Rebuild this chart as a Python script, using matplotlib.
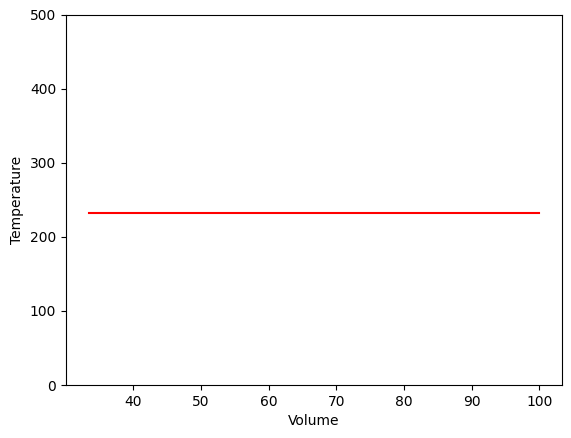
import matplotlib
matplotlib.use("Agg")
import matplotlib.pyplot as plt

# Volume / temperature readings
volume = [33.4, 50, 66.7, 83.3, 100]
temperature = [232, 232, 232, 232, 232]

fig = plt.figure(figsize=(5.71, 4.38), dpi=100)
ax = fig.add_subplot(111)
fig.subplots_adjust(left=0.1156, right=0.984, top=0.9658, bottom=0.121)
ax.plot(volume, temperature, color="red")
ax.set_ylim(0, 500)
ax.set_xlabel("Volume")
ax.set_ylabel("Temperature")

plt.savefig("out.png", dpi=100)
plt.close()
